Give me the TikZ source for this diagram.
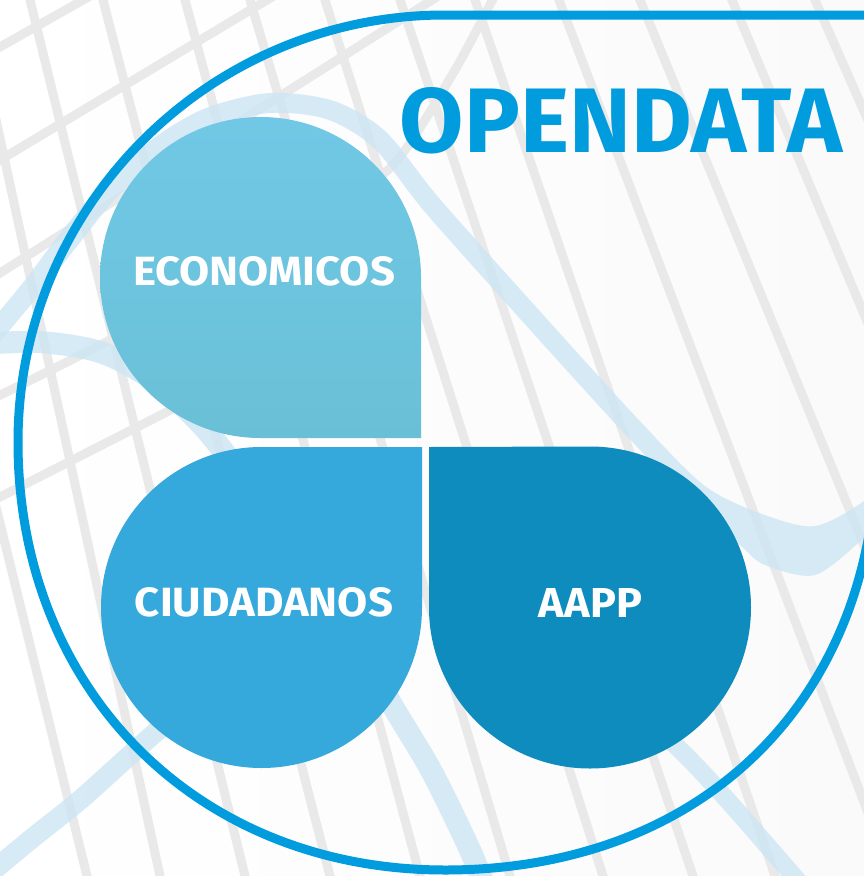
\documentclass[tikz,border=0pt]{standalone}
\usepackage{fontspec}
\setmainfont{Fira Sans}
\usepackage{graphicx}
\definecolor{ringblue}{RGB}{0,156,222}
\definecolor{gridgray}{RGB}{233,233,233}
\definecolor{waveblue}{RGB}{204,230,244}
\definecolor{ecotop}{RGB}{113,200,230}
\definecolor{ecobot}{RGB}{105,192,214}
\definecolor{ciucol}{RGB}{54,169,220}
\definecolor{aappcol}{RGB}{14,140,190}
\definecolor{bgright}{RGB}{250,250,250}
\tikzset{
  grayline/.style={draw=gridgray, line width=9pt, shorten <=-30pt, shorten >=-30pt},
  wave/.style={draw=waveblue, line width=20pt, opacity=0.8},
  ring/.style={draw=ringblue, line width=9pt},
  lbl/.style={text=white, inner sep=0pt, anchor=center},
}
\begin{document}
\begin{tikzpicture}[x=1pt,y=-1pt]
\useasboundingbox (0,0) rectangle (864,876);
\clip (0,0) rectangle (864,876);
% background
\shade[left color=white, right color=bgright] (0,0) rectangle (864,876);
% steep grid lines
\foreach \a/\b in {-129/87,-30/160,30/245,103/330,185/420,250/510,325/603,400/693,475/775,559/892,640/1000,732/1100,815/1200}
  \draw[grayline] (\a,0) -- (\b,876);
% shallow grid lines
\draw[grayline] (0,47) -- (83,0);
\draw[grayline] (0,160) -- (267,0);
\draw[grayline] (0,273) -- (432,0);
\draw[grayline, shorten <=0pt, shorten >=0pt] plot[smooth] coordinates {(-20,405) (110,340) (250,262) (340,200) (395,163) (455,70) (500,-15)};
\draw[grayline] (0,497) -- (200,395);
% light blue waves
\fill[waveblue, opacity=0.8] plot[smooth] coordinates {(-28,344) (22,284) (62,231) (103,183) (154,138) (206,108) (270,93) (334,101) (386,132) (439,198) (537,308) (637,418) (705,486) (765,515) (815,526) (864,501) (900,465)}
  -- plot[smooth] coordinates {(900,505) (864,538) (815,575) (765,565) (740,545) (680,490) (623,432) (523,322) (425,212) (374,148) (326,119) (270,113) (214,126) (166,154) (117,197) (78,245) (38,296) (-12,356)} -- cycle;
\draw[wave, line width=22pt] plot[smooth] coordinates {(-20,344) (40,342) (100,352) (150,378) (195,418) (230,460) (300,560) (360,650) (395,710) (432,772) (470,850) (490,900)};
\draw[wave] plot[smooth] coordinates {(-30,890) (30,840) (80,800) (130,755) (170,720) (220,680)};
\draw[wave, line width=18pt] plot[smooth] coordinates {(620,690) (660,730) (700,770) (745,820) (810,895)};
% big outline
\draw[ring] (900,15) -- (445,15) arc[start angle=-90, end angle=-180, radius=427]
  .. controls (18,690) and (197,870) .. (445,870)
  .. controls (704,870) and (877,699) .. (877,442) -- (877,-20);
% lobes
\shade[top color=ecotop, bottom color=ecobot] (421,438) -- (421,277.5) arc[start angle=0, end angle=-270, radius=160.5] -- cycle;
\fill[ciucol] (422,447) -- (261.5,447) arc[start angle=-90, end angle=-360, radius=160.5] -- cycle;
\fill[aappcol] (429,447) -- (429,607.5) arc[start angle=180, end angle=-90, radius=161] -- cycle;
% texts
\node[lbl, text=ringblue] (title) at (621,120.5) {\resizebox{442pt}{65pt}{\bfseries OPENDATA}};
\node[lbl] (eco) at (264,271.5) {\resizebox{262pt}{29pt}{\bfseries ECONOMICOS}};
\node[lbl] (ciu) at (264,602.5) {\resizebox{258pt}{29pt}{\bfseries CIUDADANOS}};
\node[lbl] (aapp) at (590.5,602.5) {\resizebox{103pt}{29pt}{\bfseries AAPP}};
\end{tikzpicture}
\end{document}
